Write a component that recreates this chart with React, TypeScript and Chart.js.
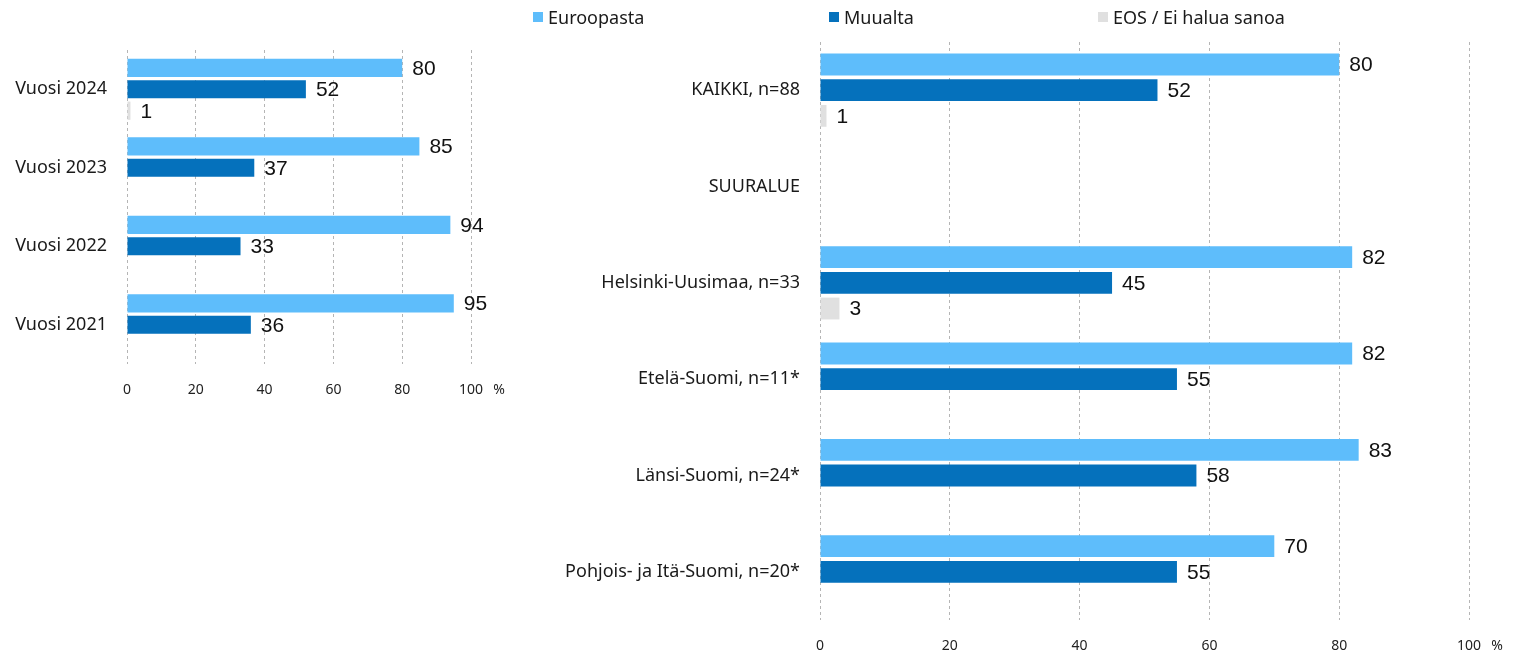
import React, { useEffect, useRef } from "react";
import { Chart, registerables } from "chart.js";

Chart.register(...registerables);

const seriesNames = ["Euroopasta", "Muualta", "EOS / Ei halua sanoa"];
const seriesColors = ["#5EBDFB", "#0571BC", "#E0E0E0"];

const leftCategories = ["Vuosi 2024", "Vuosi 2023", "Vuosi 2022", "Vuosi 2021"];
const leftEurooppa = [80, 85, 94, 95];
const leftMuualta = [52, 37, 33, 36];
const leftEos = [1, null, null, null];

const rightCategories = [
  "KAIKKI, n=88",
  "SUURALUE",
  "Helsinki-Uusimaa, n=33",
  "Etelä-Suomi, n=11*",
  "Länsi-Suomi, n=24*",
  "Pohjois- ja Itä-Suomi, n=20*",
];
const rightEurooppa = [80, null, 82, 82, 83, 70];
const rightMuualta = [52, null, 45, 55, 58, 55];
const rightEos = [1, null, 3, null, null, null];

const xTicks = [0, 20, 40, 60, 80, 100];

const LABEL_FONT = "'Noto Sans', 'Open Sans', sans-serif";
const VALUE_FONT = "'Liberation Sans', Arial, sans-serif";

const valueLabelPlugin = {
  id: "valueLabels",
  afterDatasetsDraw(chart: any) {
    const ctx = chart.ctx;
    ctx.save();
    ctx.font = `21px ${VALUE_FONT}`;
    ctx.fillStyle = "#111";
    ctx.textAlign = "left";
    ctx.textBaseline = "middle";
    chart.data.datasets.forEach((ds: any, di: number) => {
      const meta = chart.getDatasetMeta(di);
      meta.data.forEach((bar: any, i: number) => {
        const v = ds.data[i];
        if (v === null || v === undefined) return;
        ctx.fillText(String(v), bar.x + 10, bar.y + 1);
      });
    });
    // percent sign after last tick
    const xs = chart.scales.x;
    ctx.font = `14px ${LABEL_FONT}`;
    ctx.fillStyle = "#222";
    ctx.textAlign = "center";
    ctx.fillText("%", xs.getPixelForValue(100) + 28, chart.chartArea.bottom + 26);
    ctx.restore();
  },
};

function makeConfig(
  categories: string[],
  a: (number | null)[],
  b: (number | null)[],
  c: (number | null)[],
  opts: { yWidth: number; padTop: number; padRight: number; xHeight: number; catPct: number }
): any {
  const data = [a, b, c];
  return {
    type: "bar",
    data: {
      labels: categories,
      datasets: data.map((d, i) => ({
        label: seriesNames[i],
        data: d,
        backgroundColor: seriesColors[i],
        borderWidth: 0,
        categoryPercentage: opts.catPct,
        barPercentage: 0.85,
        skipNull: false,
      })),
    },
    options: {
      indexAxis: "y",
      animation: false,
      responsive: false,
      maintainAspectRatio: false,
      layout: { padding: { top: opts.padTop, right: opts.padRight, left: 0, bottom: 0 } },
      plugins: { legend: { display: false }, tooltip: { enabled: false } },
      scales: {
        x: {
          min: 0,
          max: 100,
          afterBuildTicks: (s: any) => {
            s.ticks = xTicks.map((v) => ({ value: v }));
          },
          afterFit: (s: any) => {
            s.height = opts.xHeight;
          },
          grid: { color: "#b5b5b5", lineWidth: 1, drawTicks: false },
          border: { display: false, dash: [3, 3] },
          ticks: {
            padding: 18,
            color: "#222",
            font: { family: LABEL_FONT, size: 14 },
          },
        },
        y: {
          afterFit: (s: any) => {
            s.width = opts.yWidth;
          },
          grid: { display: false, drawTicks: false },
          border: { display: false },
          ticks: {
            padding: 20,
            color: "#1a1a1a",
            font: { family: LABEL_FONT, size: 18 },
          },
        },
      },
    },
    plugins: [valueLabelPlugin],
  };
}

function BarChart(props: { config: any; width: number; height: number; left: number; top: number }) {
  const ref = useRef<HTMLCanvasElement | null>(null);
  useEffect(() => {
    if (!ref.current) return;
    const chart = new Chart(ref.current, props.config);
    return () => chart.destroy();
  }, []);
  return (
    <canvas
      ref={ref}
      width={props.width}
      height={props.height}
      style={{ position: "absolute", left: props.left, top: props.top, width: props.width, height: props.height }}
    />
  );
}

const legendPositions = [533, 829, 1098];

export default function App() {
  const leftConfig = makeConfig(leftCategories, leftEurooppa, leftMuualta, leftEos, {
    yWidth: 127,
    padTop: 50,
    padRight: 49,
    xHeight: 56,
    catPct: 0.82,
  });
  const rightConfig = makeConfig(rightCategories, rightEurooppa, rightMuualta, rightEos, {
    yWidth: 300,
    padTop: 42,
    padRight: 47,
    xHeight: 33,
    catPct: 0.8,
  });
  return (
    <div
      style={{
        position: "fixed",
        left: 0,
        top: 0,
        width: 1516,
        height: 653,
        background: "#fff",
        overflow: "hidden",
      }}
    >
      <BarChart config={leftConfig} width={520} height={420} left={0} top={0} />
      <BarChart config={rightConfig} width={996} height={653} left={520} top={0} />
      {seriesNames.map((n, i) => (
        <div
          key={n}
          style={{
            position: "absolute",
            left: legendPositions[i],
            top: 5,
            display: "flex",
            alignItems: "center",
            fontFamily: LABEL_FONT,
            fontSize: 18,
            color: "#1a1a1a",
            whiteSpace: "nowrap",
          }}
        >
          <span
            style={{
              display: "inline-block",
              width: 10,
              height: 10,
              background: seriesColors[i],
              marginRight: 5,
            }}
          />
          {n}
        </div>
      ))}
    </div>
  );
}
